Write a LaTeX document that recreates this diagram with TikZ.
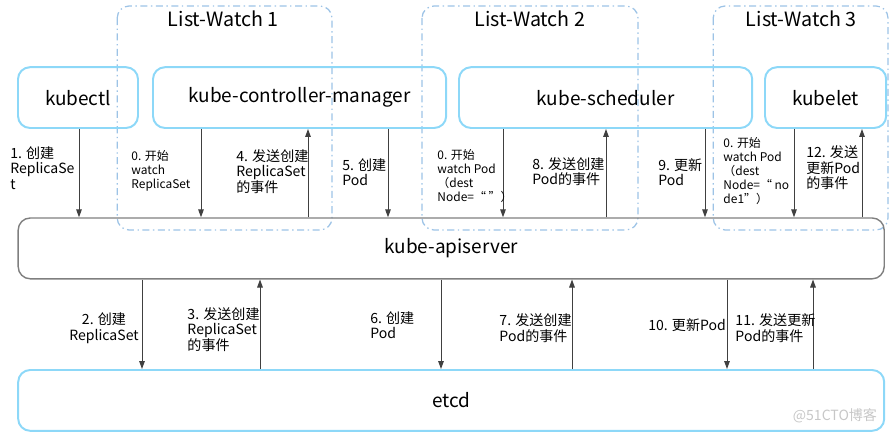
\documentclass[tikz,border=0pt]{standalone}
\usepackage{fontspec}
\setmainfont{Noto Sans CJK SC}
\usepackage{tikz}
\usepackage{xcolor}
\usetikzlibrary{arrows,shapes,positioning,fit,arrows.meta,backgrounds,calc}

\definecolor{boxblue}{HTML}{8DD8F8}
\definecolor{dashblue}{HTML}{9DC3E6}
\definecolor{apigray}{HTML}{7F7F7F}
\definecolor{linegray}{HTML}{404040}

\tikzset{
  compbox/.style={draw=boxblue, line width=1.4pt, rounded corners=0.3cm, minimum height=1.52cm, font=\fontsize{13.5}{15}\selectfont},
  apibox/.style={draw=apigray, line width=1pt, rounded corners=0.3cm, minimum width=21.65cm, minimum height=1.52cm, font=\fontsize{13.5}{15}\selectfont},
  watchbox/.style={draw=dashblue, line width=0.9pt, rounded corners=0.3cm, dash pattern=on 5pt off 2.5pt on 1pt off 2.5pt},
  flow/.style={draw=linegray, line width=0.7pt, -{Triangle[length=2mm,width=1.4mm]}},
  lbl/.style={anchor=west, align=left, inner sep=0pt, font=\fontsize{10}{11}\selectfont},
  smalllbl/.style={anchor=west, align=left, inner sep=0pt, font=\fontsize{8.5}{10}\selectfont},
}

\begin{document}
\begin{tikzpicture}
\useasboundingbox (0,0) rectangle (22.3,-10.8);

% List-Watch regions
\draw[watchbox] (2.93,-0.15) rectangle (8.3,-5.75);
\draw[watchbox] (10.55,-0.15) rectangle (15.95,-5.75);
\draw[watchbox] (17.83,-0.15) rectangle (22.2,-5.75);
\node[font=\fontsize{14}{16}\selectfont] (lw1) at (5.58,-0.48) {List-Watch 1};
\node[font=\fontsize{14}{16}\selectfont] (lw2) at (13.25,-0.48) {List-Watch 2};
\node[font=\fontsize{14}{16}\selectfont] (lw3) at (20.03,-0.48) {List-Watch 3};

% Components
\node[compbox, minimum width=3cm] (kubectl) at (1.95,-2.44) {kubectl};
\node[compbox, minimum width=7.33cm] (ccm) at (7.49,-2.44) {kube-controller-manager};
\node[compbox, minimum width=7.33cm] (sched) at (15.14,-2.44) {kube-scheduler};
\node[compbox, minimum width=3.03cm] (kubelet) at (20.64,-2.44) {kubelet};
\node[apibox] (api) at (11.28,-6.21) {kube-apiserver};
\node[compbox, minimum width=21.65cm] (etcd) at (11.28,-10.01) {etcd};

% Arrow columns
\coordinate (t1) at (1.975,0);
\coordinate (t2) at (5.025,0);
\coordinate (t3) at (7.7,0);
\coordinate (t4) at (9.7,0);
\coordinate (t5) at (12.575,0);
\coordinate (t6) at (15.15,0);
\coordinate (t7) at (17.625,0);
\coordinate (t8) at (19.85,0);
\coordinate (t9) at (21.55,0);
\coordinate (b1) at (3.55,0);
\coordinate (b2) at (6.5,0);
\coordinate (b3) at (11.025,0);
\coordinate (b4) at (14.3,0);
\coordinate (b5) at (18.175,0);
\coordinate (b6) at (20.325,0);

% Components <-> apiserver
\draw[flow] (kubectl.south -| t1) -- (api.north -| t1);
\draw[flow] (ccm.south -| t2) -- (api.north -| t2);
\draw[flow] (api.north -| t3) -- (ccm.south -| t3);
\draw[flow] (ccm.south -| t4) -- (api.north -| t4);
\draw[flow] (sched.south -| t5) -- (api.north -| t5);
\draw[flow] (api.north -| t6) -- (sched.south -| t6);
\draw[flow] (sched.south -| t7) -- (api.north -| t7);
\draw[flow] (kubelet.south -| t8) -- (api.north -| t8);
\draw[flow] (api.north -| t9) -- (kubelet.south -| t9);

% apiserver <-> etcd
\draw[flow] (api.south -| b1) -- (etcd.north -| b1);
\draw[flow] (etcd.north -| b2) -- (api.south -| b2);
\draw[flow] (api.south -| b3) -- (etcd.north -| b3);
\draw[flow] (etcd.north -| b4) -- (api.south -| b4);
\draw[flow] (api.south -| b5) -- (etcd.north -| b5);
\draw[flow] (etcd.north -| b6) -- (api.south -| b6);

% Labels (upper)
\node[lbl] (l1) at (0.25,-4.2) {1. 创建\\ReplicaSe\\t};
\node[smalllbl] (l0a) at (3.28,-4.28) {0. 开始\\watch\\ReplicaSet};
\node[lbl] (l4) at (5.9,-4.28) {4. 发送创建\\ReplicaSet\\的事件};
\node[lbl] (l5) at (8.55,-4.3) {5. 创建\\Pod};
\node[smalllbl] (l0b) at (10.93,-4.4) {0. 开始\\watch Pod\\（dest\\Node=“ ”）};
\node[lbl] (l8) at (13.3,-4.29) {8. 发送创建\\Pod的事件};
\node[lbl] (l9) at (16.45,-4.3) {9. 更新\\Pod};
\node[smalllbl] (l0c) at (18.08,-4.28) {0. 开始\\watch Pod\\（dest\\Node=“ no\\de1”）};
\node[lbl] (l12) at (20.15,-4.2) {12. 发送\\更新Pod\\的事件};

% Labels (lower)
\node[lbl, anchor=center, align=center] (l2) at (2.6,-8.2) {2. 创建\\ReplicaSet};
\node[lbl] (l3) at (4.68,-8.23) {3. 发送创建\\ReplicaSet\\的事件};
\node[lbl] (l6) at (9.25,-8.13) {6. 创建\\Pod};
\node[lbl] (l7) at (12.48,-8.2) {7. 发送创建\\Pod的事件};
\node[lbl] (l10) at (16.2,-8.13) {10. 更新Pod};
\node[lbl] (l11) at (18.38,-8.2) {11. 发送更新\\Pod的事件};

\node[anchor=east, text=black!22, font=\fontsize{10}{12}\selectfont] (wm) at (22.05,-10.4) {@51CTO博客};
\end{tikzpicture}
\end{document}
